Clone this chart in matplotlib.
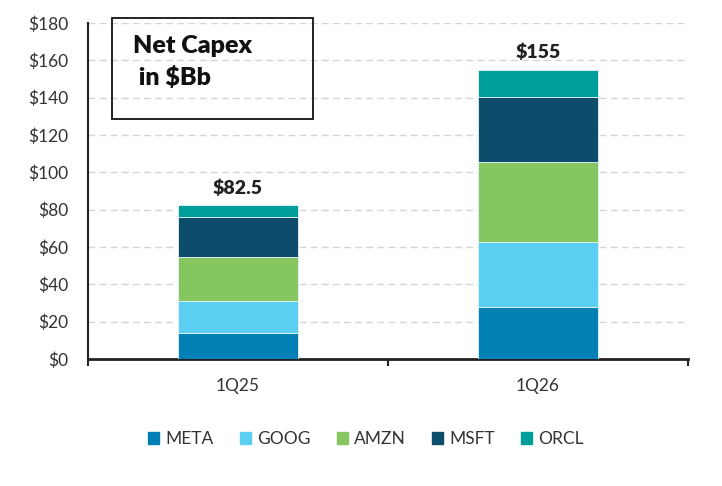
import matplotlib
matplotlib.use("Agg")
import matplotlib.pyplot as plt
from matplotlib.patches import Rectangle, Patch
import numpy as np

plt.rcParams['font.family'] = ['Lato', 'DejaVu Sans']

categories = ["1Q25", "1Q26"]
series_names = ["META", "GOOG", "AMZN", "MSFT", "ORCL"]
meta = [13.7, 27.6]
goog = [17.2, 35.3]
amzn = [24.0, 42.7]
msft = [21.4, 35.0]
orcl = [6.2, 14.4]
totals = [82.5, 155]
total_labels = ["$82.5", "$155"]
yticks = [0, 20, 40, 60, 80, 100, 120, 140, 160, 180]

colors = ["#0080B4", "#5BCFF2", "#86C661", "#0D4D6B", "#009E9A"]
series = [meta, goog, amzn, msft, orcl]

W, H = 722, 486
fig = plt.figure(figsize=(W / 100, H / 100), dpi=100)
ax = fig.add_axes([88 / W, (H - 359) / H, (688 - 88) / W, (359 - 23) / H])

x = np.arange(len(categories))
bottom = np.zeros(len(categories))
for name, vals, c in zip(series_names, series, colors):
    ax.bar(x, vals, 0.4, bottom=bottom, color=c, edgecolor="#E6F4FA", linewidth=0.6, label=name, zorder=3)
    bottom += np.array(vals)

for xi, t, lab in zip(x, totals, total_labels):
    ax.text(xi, t + 4.5, lab, ha="center", va="bottom", fontsize=14, fontweight="heavy", color="#222222")

ax.set_xlim(-0.5, 1.5)
ax.set_ylim(0, 180)
ax.set_yticks(yticks)
ax.set_yticklabels([f"${v}" for v in yticks], fontsize=12.5, color="#333333")
ax.tick_params(axis="y", length=0, pad=14)
ax.set_xticks([-0.5, 0.5, 1.5])
ax.set_xticklabels([])
ax.set_xticks(x, minor=True)
ax.set_xticklabels(categories, minor=True, fontsize=12.5, color="#333333")
ax.tick_params(axis="x", which="major", length=5, width=1.5, color="#222222", direction="out")
ax.tick_params(axis="x", which="minor", length=0, pad=14)

ax.yaxis.grid(True, linestyle=(0, (5, 3)), color="#D5D5D5", linewidth=1.0, zorder=0)
ax.set_axisbelow(True)
for s in ["top", "right"]:
    ax.spines[s].set_visible(False)
ax.spines["left"].set_color("#222222")
ax.spines["left"].set_linewidth(1.5)
ax.spines["bottom"].set_color("#222222")
ax.spines["bottom"].set_linewidth(2)

# Title box
fig.patches.append(Rectangle((112 / W, (H - 119) / H), (313 - 112) / W, (119 - 18) / H,
                             transform=fig.transFigure, fill=False, edgecolor="#111111",
                             linewidth=1.3, zorder=10))
fig.text(133 / W, (H - 35) / H, "Net Capex\n in $Bb", ha="left", va="top",
         fontsize=18, fontweight="heavy", color="#111111", linespacing=1.5)

handles = [Patch(facecolor=c, edgecolor=c) for c in colors]
fig.legend(handles, series_names, loc="center", bbox_to_anchor=(366 / W, (H - 439) / H),
           ncol=5, frameon=False, fontsize=12.5, handlelength=0.65, handleheight=0.65,
           handletextpad=0.35, columnspacing=1.5, labelcolor="#333333")

fig.savefig("out.png", dpi=100)
